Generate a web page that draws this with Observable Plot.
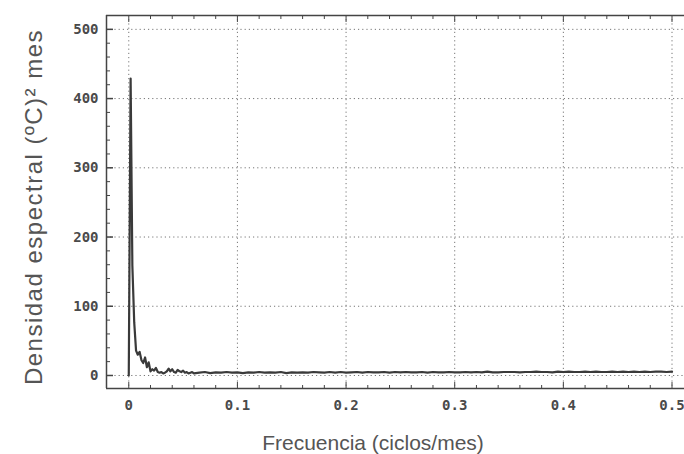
<!DOCTYPE html>
<html><head><meta charset="utf-8">
<script src="https://cdn.jsdelivr.net/npm/d3@7"></script>
<script src="https://cdn.jsdelivr.net/npm/@observablehq/plot@0.6"></script>
<style>body{margin:0;background:#fff}#chart svg{display:block}</style>
</head><body><div id="chart"></div>
<script>
// Low-frequency part of the spectrum (cycles/month, spectral density)
const freqLow = [0, 0.0017, 0.0033, 0.005, 0.0067, 0.0083, 0.01, 0.0117, 0.0133, 0.015,
  0.0167, 0.0183, 0.02, 0.0217, 0.0233, 0.025, 0.0267, 0.0283, 0.03, 0.0317,
  0.0333, 0.035, 0.0367, 0.0383, 0.04, 0.0417, 0.0433, 0.045, 0.0467, 0.0483,
  0.05, 0.0517, 0.0533, 0.055, 0.0567, 0.0583, 0.06];
const densLow = [0, 429, 159, 77, 36, 30, 34, 22, 18, 26,
  12, 19, 6, 9, 7, 11, 5, 4, 5, 3,
  4, 6, 10, 6, 9, 5, 4, 8, 6, 5,
  7, 4, 5, 3, 4, 5, 3];
// Higher-frequency tail
const freqTail = [0.065, 0.07, 0.075, 0.08, 0.085, 0.09, 0.095, 0.1,
  0.105, 0.11, 0.115, 0.12, 0.125, 0.13, 0.135, 0.14, 0.145, 0.15,
  0.155, 0.16, 0.165, 0.17, 0.175, 0.18, 0.185, 0.19, 0.195, 0.2,
  0.205, 0.21, 0.215, 0.22, 0.225, 0.23, 0.235, 0.24, 0.245, 0.25,
  0.255, 0.26, 0.265, 0.27, 0.275, 0.28, 0.285, 0.29, 0.295, 0.3,
  0.305, 0.31, 0.315, 0.32, 0.325, 0.33, 0.335, 0.34, 0.345, 0.35,
  0.355, 0.36, 0.365, 0.37, 0.375, 0.38, 0.385, 0.39, 0.395, 0.4,
  0.405, 0.41, 0.415, 0.42, 0.425, 0.43, 0.435, 0.44, 0.445, 0.45,
  0.455, 0.46, 0.465, 0.47, 0.475, 0.48, 0.485, 0.49, 0.495, 0.5];
const densTail = [4, 5, 3.5, 4.5, 4, 5, 4, 4.5,
  3.5, 4.5, 4, 5, 4, 4.5, 4, 5, 3.5, 4.5,
  4, 4.5, 4, 5, 4.5, 4, 5, 4, 5, 4,
  4.5, 5, 4, 5, 4.5, 4.5, 5, 4, 5, 4.5,
  5, 4.5, 4.5, 5, 4, 5, 4.5, 4.5, 5, 4.5,
  4.5, 5, 4.5, 5, 4.5, 5.5, 4.5, 4.5, 5, 5,
  5, 4.5, 5, 5, 5.5, 5, 5, 4.5, 5.5, 5,
  5.5, 5, 5, 5.5, 5, 5.5, 5, 5, 5.5, 5,
  5.5, 5, 5.5, 5, 5.5, 5, 5.5, 5.5, 5, 5.5];

const xTicks = [0, 0.1, 0.2, 0.3, 0.4, 0.5];
const xTickLabels = ["0", "0.1", "0.2", "0.3", "0.4", "0.5"];
const xMinor = [0.02, 0.04, 0.06, 0.08, 0.12, 0.14, 0.16, 0.18, 0.22, 0.24, 0.26, 0.28,
  0.32, 0.34, 0.36, 0.38, 0.42, 0.44, 0.46, 0.48];
const yTicks = [0, 100, 200, 300, 400, 500];
const yTickLabels = ["0", "100", "200", "300", "400", "500"];
const yMinor = [20, 40, 60, 80, 120, 140, 160, 180, 220, 240, 260, 280, 320, 340, 360, 380,
  420, 440, 460, 480];
const xTitle = "Frecuencia (ciclos/mes)";
const yTitle = "Densidad espectral (ºC)² mes";

const data = freqLow.map((f, i) => ({f, d: densLow[i]}))
  .concat(freqTail.map((f, i) => ({f, d: densTail[i]})));

const xDomain = [-0.0205, 0.5115];
const yDomain = [-18.8, 520];
const mono = "DejaVu Sans Mono";
const sans = "Liberation Sans, Arial, sans-serif";
const ink = "#444";

const chart = Plot.plot({
  width: 684,
  height: 454,
  marginLeft: 106,
  marginRight: 0,
  marginTop: 15,
  marginBottom: 66,
  style: {background: "#fff"},
  x: {domain: xDomain},
  y: {domain: yDomain},
  marks: [
    Plot.gridY(yTicks, {stroke: "#777", strokeOpacity: 1, strokeDasharray: "1.2,3"}),
    Plot.gridX(xTicks, {stroke: "#777", strokeOpacity: 1, strokeDasharray: "1.2,3"}),
    Plot.lineY(data, {x: "f", y: "d", stroke: "#3a3a3a", strokeWidth: 2.2}),
    // frame (left, top, bottom)
    Plot.ruleX([xDomain[0]], {stroke: ink, strokeWidth: 1.5}),
    Plot.ruleY([yDomain[0], yDomain[1]], {stroke: ink, strokeWidth: 1.5}),
    // inner ticks
    Plot.axisY(yTicks, {anchor: "left", tickSize: 7, dx: 7, tickFormat: () => "", label: null, stroke: ink, strokeWidth: 1.5}),
    Plot.axisY(yMinor, {anchor: "left", tickSize: 4, dx: 4, tickFormat: () => "", label: null, stroke: ink}),
    Plot.axisX(xTicks, {anchor: "bottom", tickSize: 6, dy: -6, tickFormat: () => "", label: null, stroke: ink}),
    Plot.axisX(xMinor, {anchor: "bottom", tickSize: 3, dy: -3, tickFormat: () => "", label: null, stroke: ink}),
    Plot.axisX(xTicks, {anchor: "top", tickSize: 6, dy: 6, tickFormat: () => "", label: null, stroke: ink}),
    Plot.axisX(xMinor, {anchor: "top", tickSize: 3, dy: 3, tickFormat: () => "", label: null, stroke: ink}),
    // tick labels
    Plot.axisY(yTicks, {anchor: "left", tickSize: 0, tickPadding: 8, label: null,
      tickFormat: d => yTickLabels[yTicks.indexOf(d)], fontFamily: mono, fontSize: 14, fontWeight: 600, fill: "#4a4a4a"}),
    Plot.axisX(xTicks, {anchor: "bottom", tickSize: 0, tickPadding: 12, label: null,
      tickFormat: d => xTickLabels[xTicks.indexOf(d)], fontFamily: mono, fontSize: 14, fontWeight: 600, fill: "#4a4a4a"}),
    // titles
    Plot.text([xTitle], {frameAnchor: "bottom", dx: -22.5, dy: 55, lineAnchor: "middle", textAnchor: "middle",
      fontFamily: sans, fontSize: 21, fill: "#555"}),
    Plot.text([yTitle], {frameAnchor: "left", rotate: -90, dx: -72.5, dy: 5, lineAnchor: "middle", textAnchor: "middle",
      fontFamily: sans, fontSize: 24, fill: "#555"})
  ]
});
document.getElementById("chart").appendChild(chart);
d3.select(chart).selectAll("text").filter(function() { return this.textContent === yTitle; })
  .style("letter-spacing", "1.5px");
</script>
</body></html>
